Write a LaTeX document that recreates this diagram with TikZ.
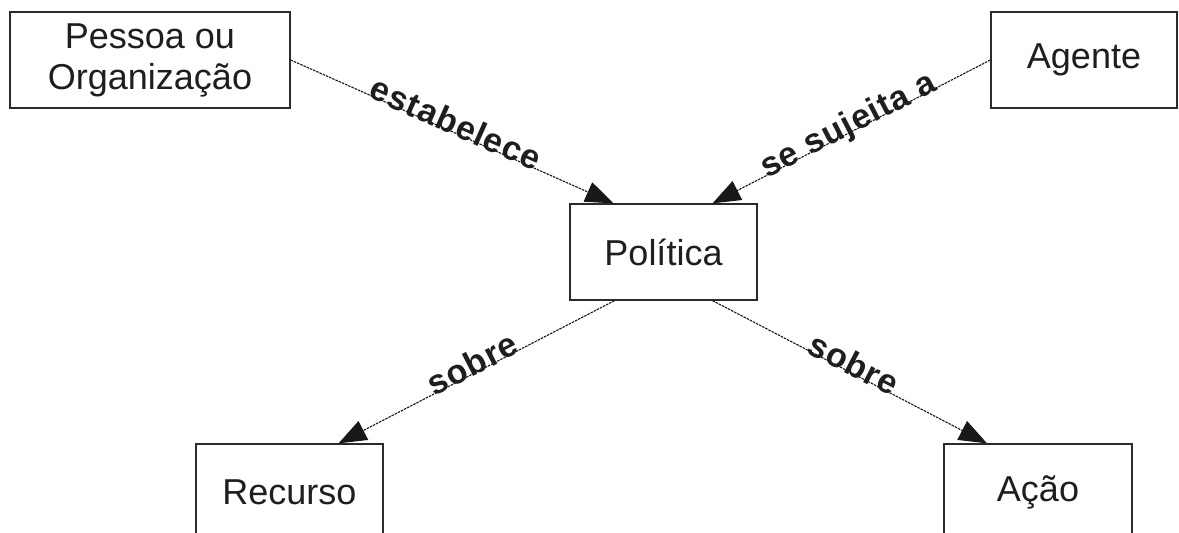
\documentclass[tikz,border=0pt]{standalone}
\usepackage{fontspec}
\setmainfont{Liberation Sans}
\newfontfamily\relfont{Liberation Sans}[LetterSpace=3]
\usetikzlibrary{arrows.meta}
\definecolor{ink}{HTML}{1E1E1E}
\definecolor{boxline}{HTML}{2B2B2B}
\definecolor{linecol}{HTML}{181818}
\begin{document}
\begin{tikzpicture}[x=1pt,y=-1pt,
  box/.style={draw=boxline, line width=1.3pt, fill=white, inner sep=0pt,
    text=ink, font=\fontsize{36}{41}\selectfont, align=center,
    minimum height=96pt},
  rel/.style={draw=linecol, line width=1.1pt, dash pattern=on 2.5pt off 1pt,
    -{Triangle[length=28pt,width=21pt]}},
  lbl/.style={sloped, anchor=mid, text=ink, inner sep=0pt,
    font=\relfont\bfseries\fontsize{34}{38}\selectfont}]
\useasboundingbox (0,0) rectangle (1179,533);
\clip (0,0) rectangle (1179,533);
\fill[white] (0,0) rectangle (1179,533);

% concepts
\node[box, minimum width=280pt] (pes) at (150,60) {Pessoa ou\\Organização};
\node[box, minimum width=186pt] (agt) at (1084,60) {Agente};
\node[box, minimum width=187pt] (pol) at (663.5,252) {Política};
\node[box, minimum width=187pt] (rec) at (289.5,492) {Recurso};
\node[box, minimum width=188pt] (aca) at (1038,492) {Ação};

% relations
\draw[rel] (pes.east) -- node[lbl] {estabelece} ([xshift=-50pt]pol.north);
\draw[rel] (agt.west) -- node[lbl] {se sujeita a} ([xshift=49pt]pol.north);
\draw[rel] ([xshift=-49pt]pol.south) -- node[lbl] {sobre} ([xshift=49pt]rec.north);
\draw[rel] ([xshift=49pt]pol.south) -- node[lbl] {sobre} ([xshift=-51pt]aca.north);
\end{tikzpicture}
\end{document}
